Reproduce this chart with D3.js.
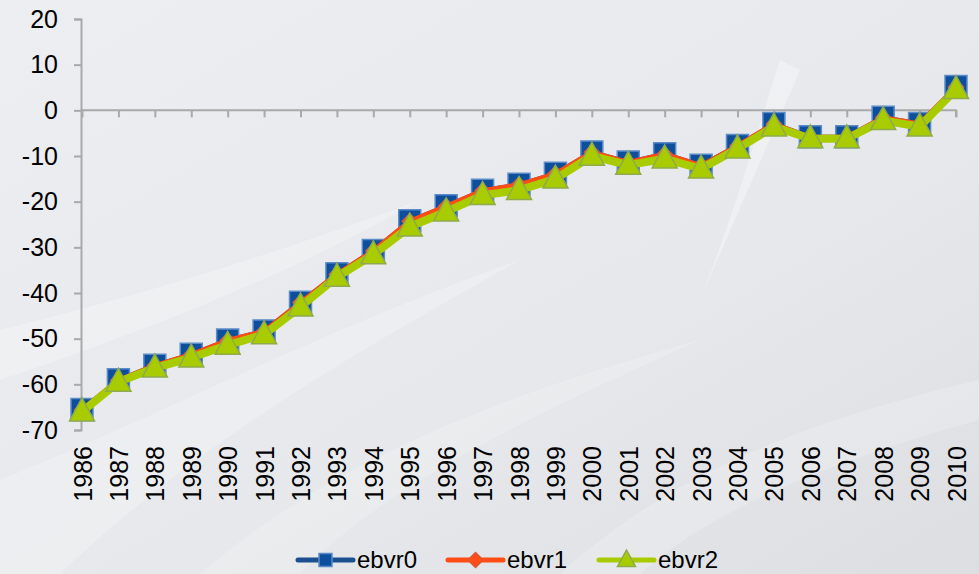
<!DOCTYPE html>
<html>
<head>
<meta charset="utf-8">
<script src="https://cdn.jsdelivr.net/npm/d3@7"></script>
<style>
  html, body { margin: 0; padding: 0; background: #e6e8eb; }
  svg { display: block; }
  text { font-family: "Liberation Sans", Arial, sans-serif; fill: #000; }
</style>
</head>
<body>
<svg id="chart" width="979" height="574"></svg>
<script>
// Categories and series
const years = [1986, 1987, 1988, 1989, 1990, 1991, 1992, 1993, 1994, 1995, 1996, 1997,
               1998, 1999, 2000, 2001, 2002, 2003, 2004, 2005, 2006, 2007, 2008, 2009, 2010];
const ebvr0 = [-65.5, -59, -55.8, -53.4, -50.3, -48.3, -42, -35.8, -30.7, -24.2, -20.9, -17.5,
               -16.2, -13.8, -9.1, -11.3, -9.5, -12, -7.7, -2.9, -5.8, -5.8, -1.5, -2.9, 5.2];
const ebvr1 = [-65.6, -59.1, -55.9, -53.5, -50.4, -48.4, -42.1, -35.9, -30.8, -24.3, -21, -17.6,
               -16.3, -13.9, -9.2, -11.4, -9.6, -12.1, -7.8, -3, -5.9, -5.9, -1.6, -3, 5.1];
const ebvr2 = [-66, -59.5, -56.4, -54.2, -51.4, -49.1, -43, -36.5, -31.6, -25.5, -22.2, -18.6,
               -17.5, -15, -10, -12, -10.6, -12.8, -8.4, -3.6, -6.2, -6.2, -2.2, -3.6, 4.6];
const seriesNames = ["ebvr0", "ebvr1", "ebvr2"];
const yTicks = [-70, -60, -50, -40, -30, -20, -10, 0, 10, 20];

const svg = d3.select("#chart");
const W = 979, H = 574;
const FONT = 25;

// Background: soft grey-blue with faint light swooshes
const defs = svg.append("defs");
const bg = defs.append("linearGradient").attr("id", "bg")
  .attr("x1", "0").attr("y1", "0").attr("x2", "1").attr("y2", "1");
bg.append("stop").attr("offset", "0").attr("stop-color", "#eceef1");
bg.append("stop").attr("offset", "0.6").attr("stop-color", "#e6e8eb");
bg.append("stop").attr("offset", "1").attr("stop-color", "#dcdee2");
svg.append("rect").attr("width", W).attr("height", H).attr("fill", "url(#bg)");

const swoosh = svg.append("g").attr("fill", "#ffffff");
swoosh.append("path").attr("opacity", 0.25)
  .attr("d", "M0,330 C120,300 260,260 420,200 C300,270 150,330 0,380 Z");
swoosh.append("path").attr("opacity", 0.22)
  .attr("d", "M0,480 C150,420 320,330 520,260 C360,350 200,440 60,574 L0,574 Z");
swoosh.append("path").attr("opacity", 0.35)
  .attr("d", "M780,60 C760,120 740,200 700,300 C730,230 770,140 800,70 Z");
swoosh.append("path").attr("opacity", 0.18)
  .attr("d", "M200,574 C320,470 480,400 700,340 C520,420 380,490 300,574 Z");
swoosh.append("path").attr("opacity", 0.18)
  .attr("d", "M560,574 C640,500 760,430 979,380 L979,420 C800,470 700,520 640,574 Z");

// Scales
const x = d3.scalePoint().domain(years).range([82, 956]);
const y = d3.scaleLinear().domain([-70, 20]).range([430, 19]);
const axisColor = "#a9a9a9";

// Y axis (plain hyphen for negatives)
const yAxis = svg.append("g").attr("transform", "translate(81,0)")
  .call(d3.axisLeft(y).tickValues(yTicks).tickSize(7).tickPadding(16).tickFormat(d => String(d)));
yAxis.select(".domain").attr("stroke", axisColor).attr("stroke-width", 2);
yAxis.selectAll(".tick line").attr("stroke", axisColor).attr("stroke-width", 2);
yAxis.selectAll(".tick text").attr("font-size", FONT)
  .attr("font-family", "Liberation Sans, Arial, sans-serif").attr("fill", "#000");

// X axis line through zero with ticks at each year
const xAxis = svg.append("g").attr("transform", `translate(0,${y(0)})`)
  .call(d3.axisBottom(x).tickSize(7).tickFormat(""));
xAxis.select(".domain").attr("stroke", axisColor).attr("stroke-width", 2)
  .attr("d", `M${x(years[0])},0H${x(years[years.length - 1])}V7`);
xAxis.selectAll(".tick line").attr("stroke", axisColor).attr("stroke-width", 2);

// Year labels along the bottom, rotated
const xLabels = svg.append("g").attr("transform", "translate(0,446)")
  .call(d3.axisBottom(x).tickSize(0).tickPadding(0));
xLabels.select(".domain").remove();
xLabels.selectAll(".tick text")
  .attr("font-size", FONT).attr("font-family", "Liberation Sans, Arial, sans-serif").attr("fill", "#000")
  .attr("transform", "rotate(-90)")
  .attr("text-anchor", "end")
  .attr("x", 0).attr("y", 0).attr("dy", "0.36em");

// Series
const lineGen = d3.line().x((d, i) => x(years[i])).y(d => y(d));

const styles = [
  { data: ebvr0, stroke: "#1c4f8f", width: 4, marker: "square", fill: "#0d4f9c", mstroke: "#5b8cc9", size: 22 },
  { data: ebvr1, stroke: "#ff4b14", width: 5, marker: "diamond", fill: "#ff4b14", mstroke: "#e0553a", size: 15 },
  { data: ebvr2, stroke: "#a9cc00", width: 8, marker: "triangle", fill: "#a9cc00", mstroke: "#8faa4e", size: 25 }
];

function markerPath(type, s) {
  const h = s / 2;
  if (type === "square") return `M${-h},${-h}H${h}V${h}H${-h}Z`;
  if (type === "diamond") return `M0,${-h}L${h},0L0,${h}L${-h},0Z`;
  // triangle, centred on the point
  const th = s * 0.92;
  return `M0,${-th * 0.6}L${h},${th * 0.4}L${-h},${th * 0.4}Z`;
}

styles.forEach(st => {
  const g = svg.append("g");
  g.append("path").datum(st.data)
    .attr("d", lineGen)
    .attr("fill", "none")
    .attr("stroke", st.stroke)
    .attr("stroke-width", st.width)
    .attr("stroke-linejoin", "round");
  g.selectAll("path.mk").data(st.data).join("path")
    .attr("class", "mk")
    .attr("transform", (d, i) => `translate(${x(years[i])},${y(d)})`)
    .attr("d", markerPath(st.marker, st.size))
    .attr("fill", st.fill)
    .attr("stroke", st.mstroke)
    .attr("stroke-width", 1.5);
});

// Legend
const legendX = [298, 448, 599];
const legend = svg.append("g");
styles.forEach((st, i) => {
  const lg = legend.append("g").attr("transform", `translate(${legendX[i]},560)`);
  lg.append("line").attr("x1", 0).attr("x2", 55).attr("y1", 0).attr("y2", 0)
    .attr("stroke", st.stroke).attr("stroke-width", 5).attr("stroke-linecap", "round");
  const ms = st.marker === "square" ? 13 : st.marker === "diamond" ? 15 : 18;
  lg.append("path").attr("transform", "translate(27.5,0)")
    .attr("d", markerPath(st.marker, ms))
    .attr("fill", st.fill).attr("stroke", st.mstroke).attr("stroke-width", 1.5);
  lg.append("text").attr("x", 59).attr("y", 0).attr("dy", "0.33em")
    .attr("font-size", 24).text(seriesNames[i]);
});
</script>
</body>
</html>
